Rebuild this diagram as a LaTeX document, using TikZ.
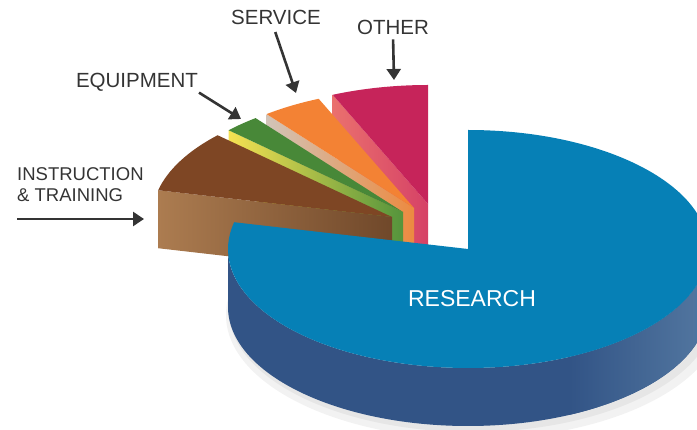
\documentclass[tikz,border=0pt]{standalone}
\usepackage{fontspec}
\setmainfont{Liberation Sans}
\usepackage{tikz}
\usetikzlibrary{arrows.meta, calc}

\definecolor{resTop}{RGB}{6,128,182}
\definecolor{resSide}{RGB}{50,84,134}
\definecolor{resSideLight}{RGB}{80,116,158}
\definecolor{resSideEdge}{RGB}{48,126,176}
\definecolor{othTop}{RGB}{198,36,90}
\definecolor{othSideFar}{RGB}{234,112,110}
\definecolor{othSideNear}{RGB}{214,66,102}
\definecolor{serTop}{RGB}{243,130,52}
\definecolor{serSideFar}{RGB}{210,196,184}
\definecolor{serSideNear}{RGB}{236,138,64}
\definecolor{equTop}{RGB}{72,136,56}
\definecolor{equSideFar}{RGB}{246,226,82}
\definecolor{equSideMid}{RGB}{186,206,108}
\definecolor{equSideNear}{RGB}{84,148,60}
\definecolor{insTop}{RGB}{126,70,36}
\definecolor{insSideFar}{RGB}{172,124,80}
\definecolor{insSideNear}{RGB}{112,72,42}
\definecolor{txt}{RGB}{52,52,52}

\tikzstyle{tag} = [inner sep=0pt, text=txt, font=\fontsize{20.5}{24}\selectfont]
\tikzstyle{pointer} = [-{Triangle[length=11pt, width=14pt]}, line width=2.6pt, draw=txt]

\begin{document}
\begin{tikzpicture}[x=1pt, y=1pt]
		\useasboundingbox (0,0) rectangle (697,-430);
		\clip (0,0) rectangle (697,-430);

		\coordinate (research)    at (468, -249);
		\coordinate (other)       at (428, -204);
		\coordinate (service)     at (414, -208);
		\coordinate (equipment)   at (403, -212);
		\coordinate (instruction) at (392, -217);
		\coordinate (serviceptr)  at (296, -93);
		\coordinate (otherptr)    at (394, -80);
		\coordinate (equipptr)    at (241, -119);
		\coordinate (instail)     at (17,  -219);
		\coordinate (instip)      at (144, -219);

		% shadow on the ground
		\begin{scope}
			\clip (0,-290) rectangle (697,-430);
			\fill[black, opacity=0.05] ([shift={(6,-66)}]research) ellipse[x radius=248, y radius=124];
			\fill[black, opacity=0.05] ([shift={(4,-62)}]research) ellipse[x radius=243, y radius=121];
		\end{scope}

		\shade[left color=othSideFar, right color=othSideNear] (other) -- ++(113.4:240 and 119) -- ++(0,-58) -- ([yshift=-58pt]other) -- cycle;
		\fill[othTop] (other) -- ++(90:240 and 119) arc[start angle=90, end angle=113.4, x radius=240, y radius=119] -- cycle;

		\shade[left color=serSideFar, right color=serSideNear] (service) -- ++(127.9:240 and 119) -- ++(0,-58) -- ([yshift=-58pt]service) -- cycle;
		\fill[serTop] (service) -- ++(113.4:240 and 119) arc[start angle=113.4, end angle=127.9, x radius=240, y radius=119] -- cycle;

		\shade[left color=equSideFar, middle color=equSideMid, right color=equSideNear] (equipment) -- ++(136.6:240 and 119) -- ++(0,-58) -- ([yshift=-58pt]equipment) -- cycle;
		\fill[equTop] (equipment) -- ++(127.9:240 and 119) arc[start angle=127.9, end angle=136.6, x radius=240, y radius=119] -- cycle;

		\shade[left color=insSideFar, right color=insSideNear] (instruction) -- ++(167:240 and 119) -- ++(0,-58) -- ([yshift=-58pt]instruction) -- cycle;
		\fill[insTop] (instruction) -- ++(136.6:240 and 119) arc[start angle=136.6, end angle=167, x radius=240, y radius=119] -- cycle;

		\fill[resSide] ([shift={(180:240 and 119)}]research) arc[start angle=180, end angle=360, x radius=240, y radius=119] -- ++(0,-58) arc[start angle=360, end angle=180, x radius=240, y radius=119] -- cycle;
		\shade[left color=resSide, right color=resSideLight] ([shift={(295:240 and 119)}]research) arc[start angle=295, end angle=341, x radius=240, y radius=119] -- ++(0,-58) arc[start angle=341, end angle=295, x radius=240, y radius=119] -- cycle;
		\shade[left color=resSideLight, right color=resSideEdge] ([shift={(340:240 and 119)}]research) arc[start angle=340, end angle=352, x radius=240, y radius=119] -- ++(0,-58) arc[start angle=352, end angle=340, x radius=240, y radius=119] -- cycle;
		\fill[resTop] (research) -- ++(90:240 and 119) arc[start angle=90, end angle=-193, x radius=240, y radius=119] -- cycle;

		\node[tag, anchor=base] (SER) at (276, -25) {SERVICE};
		\node[tag, anchor=base] (OTH) at (393, -35) {OTHER};
		\node[tag, anchor=base] (EQU) at (137, -88) {EQUIPMENT};
		\node[tag, anchor=north west, align=left, font=\fontsize{18.5}{21.5}\selectfont] (INS) at (17, -167) {INSTRUCTION\\\& TRAINING};
		\node[tag, anchor=base, text=white, font=\fontsize{23}{27}\selectfont] (RES) at (472, -307) {RESEARCH};

		\draw[pointer, shorten <=7pt] ([xshift=-3pt]SER.south) -- (serviceptr);
		\draw[pointer, shorten <=4pt] (OTH.south) -- (otherptr);
		\draw[pointer, shorten <=1pt] (EQU.south east) -- (equipptr);
		\draw[pointer] (instail) -- (instip);

	\end{tikzpicture}
\end{document}
